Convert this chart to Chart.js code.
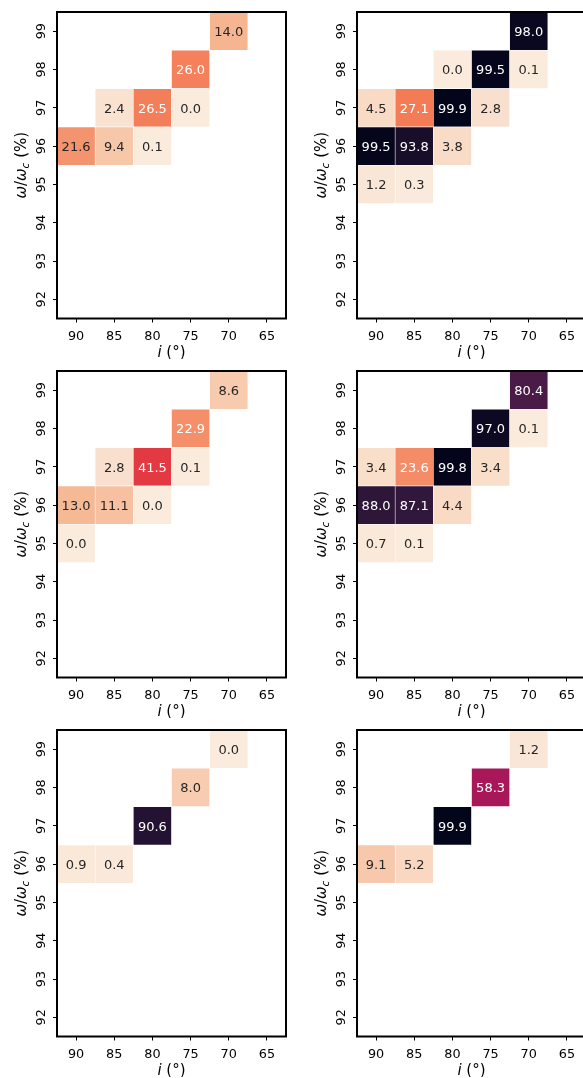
<!DOCTYPE html>
<html>
<head>
<meta charset="utf-8">
<script src="https://cdn.jsdelivr.net/npm/chart.js@4.4.0/dist/chart.umd.min.js"></script>
<style>
    html, body { margin: 0; padding: 0; background: #fff; overflow: hidden; }
    #fig { position: relative; width: 583px; height: 1078px; overflow: hidden; }
    .panel { position: absolute; width: 300px; height: 359px; }
</style>
</head>
<body>
<div id="fig">
    <div class="panel" style="left:0;top:0"><canvas id="p0"></canvas></div>
    <div class="panel" style="left:300px;top:0"><canvas id="p1"></canvas></div>
    <div class="panel" style="left:0;top:359px"><canvas id="p2"></canvas></div>
    <div class="panel" style="left:300px;top:359px"><canvas id="p3"></canvas></div>
    <div class="panel" style="left:0;top:718px"><canvas id="p4"></canvas></div>
    <div class="panel" style="left:300px;top:718px"><canvas id="p5"></canvas></div>
</div>
<script>
// Achsen: Inklination (x) und Frequenzverhältnis (y, von oben nach unten)
const inclinations = ['90', '85', '80', '75', '70', '65'];
const freqRatios = [99, 98, 97, 96, 95, 94, 93, 92];

// Werte pro Panel, Zeilen = freqRatios, Spalten = inclinations, null = leer
const panelTL = [
    [null, null, null, null, 14.0, null],
    [null, null, null, 26.0, null, null],
    [null, 2.4, 26.5, 0.0, null, null],
    [21.6, 9.4, 0.1, null, null, null],
    [null, null, null, null, null, null],
    [null, null, null, null, null, null],
    [null, null, null, null, null, null],
    [null, null, null, null, null, null]
];
const panelTR = [
    [null, null, null, null, 98.0, null],
    [null, null, 0.0, 99.5, 0.1, null],
    [4.5, 27.1, 99.9, 2.8, null, null],
    [99.5, 93.8, 3.8, null, null, null],
    [1.2, 0.3, null, null, null, null],
    [null, null, null, null, null, null],
    [null, null, null, null, null, null],
    [null, null, null, null, null, null]
];
const panelML = [
    [null, null, null, null, 8.6, null],
    [null, null, null, 22.9, null, null],
    [null, 2.8, 41.5, 0.1, null, null],
    [13.0, 11.1, 0.0, null, null, null],
    [0.0, null, null, null, null, null],
    [null, null, null, null, null, null],
    [null, null, null, null, null, null],
    [null, null, null, null, null, null]
];
const panelMR = [
    [null, null, null, null, 80.4, null],
    [null, null, null, 97.0, 0.1, null],
    [3.4, 23.6, 99.8, 3.4, null, null],
    [88.0, 87.1, 4.4, null, null, null],
    [0.7, 0.1, null, null, null, null],
    [null, null, null, null, null, null],
    [null, null, null, null, null, null],
    [null, null, null, null, null, null]
];
const panelBL = [
    [null, null, null, null, 0.0, null],
    [null, null, null, 8.0, null, null],
    [null, null, 90.6, null, null, null],
    [0.9, 0.4, null, null, null, null],
    [null, null, null, null, null, null],
    [null, null, null, null, null, null],
    [null, null, null, null, null, null],
    [null, null, null, null, null, null]
];
const panelBR = [
    [null, null, null, null, 1.2, null],
    [null, null, null, 58.3, null, null],
    [null, null, 99.9, null, null, null],
    [9.1, 5.2, null, null, null, null],
    [null, null, null, null, null, null],
    [null, null, null, null, null, null],
    [null, null, null, null, null, null],
    [null, null, null, null, null, null]
];

// Farbskala "rocket" (umgekehrt), 0..100
const rocketStops = ['#03051a', '#35193e', '#701f57', '#ad1759', '#e13342', '#f37651', '#f6b48f', '#faebdd'];

const FONT = '"DejaVu Sans", sans-serif';
const LABEL_SIZE = 15;
const TICK_SIZE = 12.8;

function hexToRgb(h) {
    return [1, 3, 5].map(i => parseInt(h.substr(i, 2), 16));
}

function rocketR(v) {
    const t = Math.min(1, Math.max(0, 1 - v / 100)) * (rocketStops.length - 1);
    const i = Math.min(rocketStops.length - 2, Math.floor(t));
    const f = t - i;
    const a = hexToRgb(rocketStops[i]), b = hexToRgb(rocketStops[i + 1]);
    return a.map((c, k) => Math.round(c + (b[k] - c) * f));
}

function rgbStr(c) {
    return `rgb(${c[0]},${c[1]},${c[2]})`;
}

// Textfarbe wie bei seaborn: dunkel auf hellen Zellen, sonst weiß
function textColour(v) {
    const lin = rocketR(v).map(c => {
        c /= 255;
        return c <= 0.03928 ? c / 12.92 : Math.pow((c + 0.055) / 1.055, 2.4);
    });
    const lum = 0.2126 * lin[0] + 0.7152 * lin[1] + 0.0722 * lin[2];
    return lum > 0.408 ? '#262626' : '#ffffff';
}

// Zeichnet Zellbeschriftungen, Rahmen, y-Ticklabels und Achsentitel
const heatmapDecor = {
    id: 'heatmapDecor',
    afterDatasetsDraw(chart) {
        const ctx = chart.ctx;
        const area = chart.chartArea;
        const meta = chart.getDatasetMeta(0);
        const cells = chart.data.datasets[0].data;

        ctx.save();
        ctx.font = `13px ${FONT}`;
        ctx.textAlign = 'center';
        ctx.textBaseline = 'alphabetic';
        meta.data.forEach((bar, i) => {
            const v = cells[i].v;
            ctx.fillStyle = textColour(v);
            ctx.fillText(v.toFixed(1), bar.x, (bar.y + bar.base) / 2 + 0.3645 * 13);
        });

        // Rahmen
        ctx.strokeStyle = '#000';
        ctx.lineWidth = 2;
        ctx.strokeRect(area.left, area.top, area.right - area.left, area.bottom - area.top);

        // y-Ticklabels, um 90° gedreht
        const yScale = chart.scales.y;
        ctx.fillStyle = '#000';
        ctx.font = `${TICK_SIZE}px ${FONT}`;
        yScale.ticks.forEach(t => {
            const py = yScale.getPixelForValue(t.value);
            ctx.save();
            ctx.translate(area.left - 12.5, py);
            ctx.rotate(-Math.PI / 2);
            ctx.textAlign = 'center';
            ctx.fillText(String(t.value), 0, 0);
            ctx.restore();
        });

        // x-Achsentitel: i (°)
        drawRich(ctx, [
            { text: 'i', font: `italic ${LABEL_SIZE}px ${FONT}`, dy: 0 },
            { text: ' (°)', font: `${LABEL_SIZE}px ${FONT}`, dy: 0 }
        ], (area.left + area.right) / 2, area.bottom + 38, 0);

        // y-Achsentitel: ω/ω_c (%)
        drawRich(ctx, [
            { text: 'ω', font: `italic ${LABEL_SIZE}px ${FONT}`, dy: 0 },
            { text: '/', font: `${LABEL_SIZE}px ${FONT}`, dy: 0 },
            { text: 'ω', font: `italic ${LABEL_SIZE}px ${FONT}`, dy: 0 },
            { text: 'c', font: `italic ${LABEL_SIZE * 0.7}px ${FONT}`, dy: 3 },
            { text: ' (%)', font: `${LABEL_SIZE}px ${FONT}`, dy: 0 }
        ], area.left - 31.5, (area.top + area.bottom) / 2, -Math.PI / 2);
        ctx.restore();
    }
};

// Text aus mehreren Stücken mit unterschiedlicher Schrift, zentriert
function drawRich(ctx, parts, x, y, angle) {
    ctx.save();
    ctx.translate(x, y);
    ctx.rotate(angle);
    ctx.textAlign = 'left';
    ctx.textBaseline = 'alphabetic';
    ctx.fillStyle = '#000';
    let total = 0;
    parts.forEach(p => { ctx.font = p.font; p.w = ctx.measureText(p.text).width; total += p.w; });
    let cx = -total / 2;
    parts.forEach(p => {
        ctx.font = p.font;
        ctx.fillText(p.text, cx, p.dy);
        cx += p.w;
    });
    ctx.restore();
}

function makeChart(id, grid) {
    const cells = [];
    grid.forEach((row, r) => row.forEach((v, c) => {
        if (v === null) return;
        const y = freqRatios[r];
        cells.push({ x: inclinations[c], y: [y - 0.5, y + 0.5], v: v });
    }));

    return new Chart(document.getElementById(id), {
        type: 'bar',
        data: {
            labels: inclinations,
            datasets: [{
                data: cells,
                backgroundColor: ctx => rgbStr(rocketR(ctx.raw.v)),
                borderColor: '#ffffff',
                borderWidth: 0.6,
                borderSkipped: false,
                barPercentage: 1,
                categoryPercentage: 1
            }]
        },
        options: {
            responsive: true,
            maintainAspectRatio: false,
            animation: false,
            layout: { padding: { top: 12, right: 14, left: 0, bottom: 0 } },
            plugins: { legend: { display: false }, tooltip: { enabled: false } },
            scales: {
                x: {
                    type: 'category',
                    offset: true,
                    border: { display: false },
                    grid: { offset: false, drawOnChartArea: false, drawTicks: true, tickLength: 4, color: '#000', lineWidth: 1 },
                    ticks: { color: '#000', font: { family: FONT, size: TICK_SIZE }, padding: 6, maxRotation: 0, autoSkip: false },
                    afterFit: s => { s.height = 40.5; }
                },
                y: {
                    type: 'linear',
                    min: 91.5,
                    max: 99.5,
                    border: { display: false },
                    grid: { drawOnChartArea: false, drawTicks: true, tickLength: 4, color: '#000', lineWidth: 1 },
                    ticks: { display: false },
                    afterBuildTicks: s => { s.ticks = freqRatios.map(v => ({ value: v })); },
                    afterFit: s => { s.width = 57; }
                }
            }
        },
        plugins: [heatmapDecor]
    });
}

makeChart('p0', panelTL);
makeChart('p1', panelTR);
makeChart('p2', panelML);
makeChart('p3', panelMR);
makeChart('p4', panelBL);
makeChart('p5', panelBR);
</script>
</body>
</html>
